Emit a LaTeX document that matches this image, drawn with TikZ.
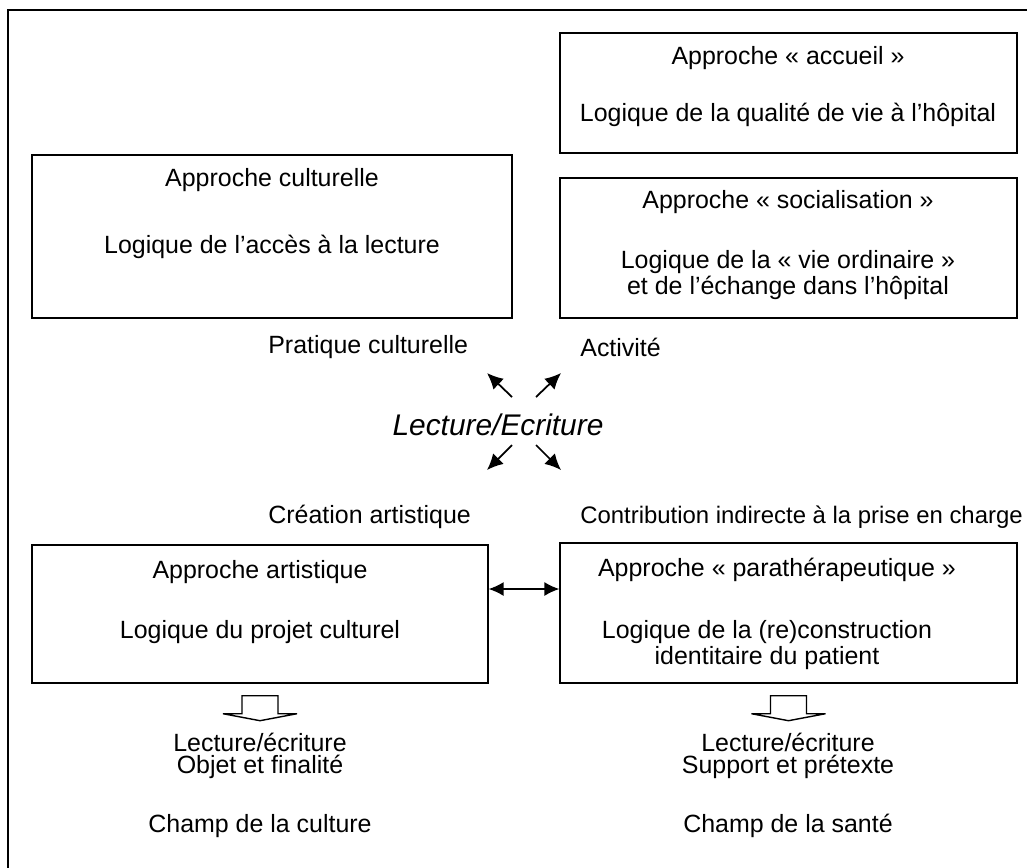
\documentclass[tikz,border=0pt]{standalone}
\usepackage{fontspec}
\setmainfont{Liberation Sans}
\usepackage{tikz}
\usetikzlibrary{arrows.meta}
\usetikzlibrary{positioning}

\tikzset{
  box/.style={draw, line width=0.8pt, minimum width=9.14cm, inner sep=0pt},
  txt/.style={font=\fontsize{14.2}{17}\selectfont, inner sep=0pt},
  lbl/.style={txt, anchor=west},
  small/.style={-{Latex[length=0.32cm, width=0.3cm]}, line width=1pt},
  dbl/.style={{Latex[length=0.3cm, width=0.28cm]}-{Latex[length=0.3cm, width=0.28cm]}, line width=0.8pt},
  hollow/.style={draw, fill=white, line width=0.8pt, line join=miter}
}

\begin{document}
\begin{tikzpicture}[x=0.02cm, y=-0.02cm]
      \useasboundingbox (0,0) rectangle (1027,867);
      \draw[line width=1.1pt] (8,880) -- (8,10) -- (1040,10);

      % boxes
      \node[box, minimum height=2.4cm] (accueil) at (788.5,93) {};
      \node[box, minimum height=2.8cm] (social) at (788.5,248) {};
      \node[box, minimum width=9.6cm, minimum height=3.26cm] (cult) at (272,236.5) {};
      \node[box, minimum width=9.12cm, minimum height=2.76cm] (art) at (260,614) {};
      \node[box, minimum height=2.8cm] (para) at (788.5,613) {};

      \node[txt] (accueilA) at (788,58) {Approche « accueil »};
      \node[txt] (accueilL) at (788,115) {Logique de la qualité de vie à l’hôpital};

      \node[txt] (socialA) at (788,202) {Approche « socialisation »};
      \node[txt] (socialL1) at (788,262) {Logique de la « vie ordinaire »};
      \node[txt] (socialL2) at (788,288) {et de l’échange dans l’hôpital};

      \node[txt] (cultA) at (272,180) {Approche culturelle};
      \node[txt] (cultL) at (272,247) {Logique de l’accès à la lecture};

      \node[txt] (artA) at (260,572) {Approche artistique};
      \node[txt] (artL) at (260,632) {Logique du projet culturel};

      \node[txt] (paraA) at (777,570) {Approche « parathérapeutique »};
      \node[txt] (paraL1) at (767,632) {Logique de la (re)construction};
      \node[txt] (paraL2) at (767,658) {identitaire du patient};

      % centre
      \node[txt, font=\fontsize{17}{20}\itshape] (lect) at (498,425) {Lecture/Ecriture};

      \node[lbl] (pratique) at (268,347) {Pratique culturelle};
      \node[lbl] (activite) at (580,347) {Activité};
      \node[lbl] (creation) at (268,517) {Création artistique};
      \node[lbl, font=\fontsize{13.6}{16}\selectfont] (contrib) at (580,517) {Contribution indirecte à la prise en charge};

      \coordinate (ulT) at (512,397);  \coordinate (ulH) at (487,373);
      \coordinate (urT) at (536,397);  \coordinate (urH) at (561,373);
      \coordinate (dlT) at (512,445);  \coordinate (dlH) at (487,470);
      \coordinate (drT) at (536,445);  \coordinate (drH) at (561,470);
      \draw[small] (ulT) -- (ulH);
      \draw[small] (urT) -- (urH);
      \draw[small] (dlT) -- (dlH);
      \draw[small] (drT) -- (drH);

      \draw[dbl] ([yshift=0.5cm]art.east) -- ([yshift=0.5cm]art.east -| para.west);

      % hollow arrows
      \draw[hollow] (art.south) ++(-18,12) -- ++(0,18) -- ++(-19,0) -- ++(37,7)
        -- ++(37,-7) -- ++(-19,0) -- ++(0,-18) -- cycle;
      \draw[hollow] (para.south) ++(-18,12) -- ++(0,18) -- ++(-19,0) -- ++(37,7)
        -- ++(37,-7) -- ++(-19,0) -- ++(0,-18) -- cycle;

      \node[txt] (artO1) at (260,742) {Lecture/écriture};
      \node[txt] (artO2) at (260,767) {Objet et finalité};
      \node[txt] (artC) at (260,826) {Champ de la culture};

      \node[txt] (paraO1) at (788,742) {Lecture/écriture};
      \node[txt] (paraO2) at (788,767) {Support et prétexte};
      \node[txt] (paraC) at (788,826) {Champ de la santé};

    \end{tikzpicture}
\end{document}
